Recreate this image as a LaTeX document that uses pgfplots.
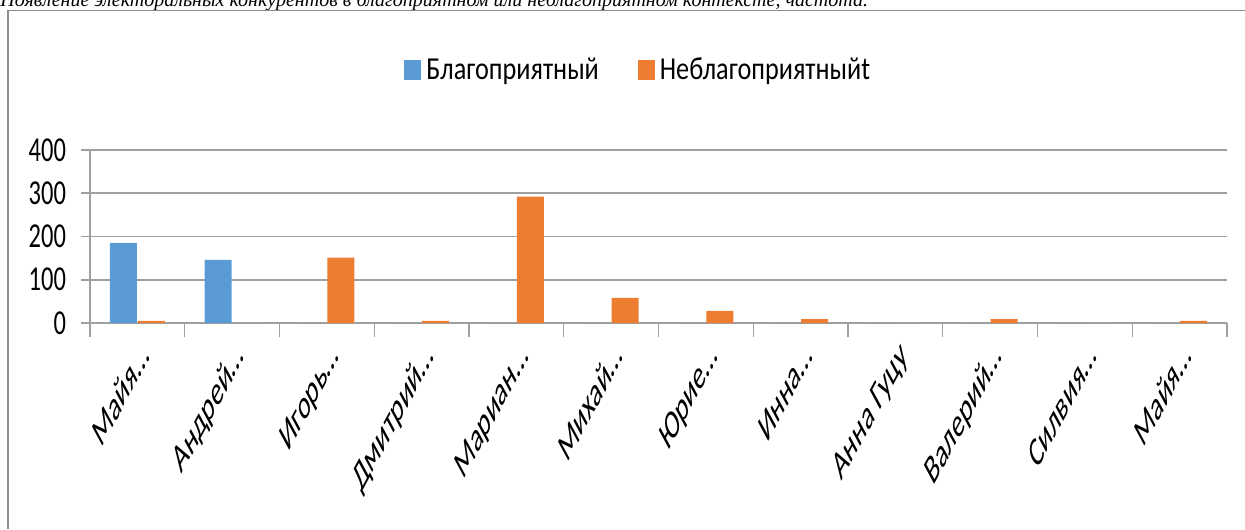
\documentclass[border=0pt]{standalone}
\usepackage{fontspec}
\usepackage{pgfplots}
\pgfplotsset{compat=1.18}
\newfontfamily\legfont[FakeStretch=0.82]{Carlito}
\newfontfamily\tickfont[FakeStretch=0.7]{Carlito}
\newfontfamily\chartfont{Carlito}
\newfontfamily\capfont{Liberation Serif}
\definecolor{cblue}{HTML}{5B9BD5}
\definecolor{corange}{HTML}{ED7D31}
\definecolor{cgrid}{HTML}{A0A0A0}
\definecolor{cframe}{HTML}{8C8C8C}

% 1 px of the reference = 0.5pt, y measured downward from the top edge
\begin{document}
\begin{tikzpicture}
% caption of the figure, cut at the top edge
\node[anchor=base west, inner sep=0pt, font=\capfont\itshape\fontsize{10}{12}\selectfont] at (0pt,-3.5pt)
  {Появление электоральных конкурентов в благоприятном или неблагоприятном контексте, частота.};
\draw[cframe, line width=0.6pt] (4pt,-264.5pt) -- (4pt,-5.25pt) -- (625pt,-5.25pt);
\begin{axis}[
  at={(45pt,-161.5pt)}, anchor=south west,
  scale only axis, width=568.5pt, height=86.5pt,
  xmin=0.5, xmax=12.5, ymin=0, ymax=400,
  ytick={0,100,...,400},
  xtick={1,...,12},
  xticklabels={Майя…,Андрей…,Игорь…,Дмитрий…,Мариан…,Михай…,Юрие…,Инна…,Анна Гуцу,Валерий…,Силвия…,Майя…},
  minor xtick={0.5,1.5,...,12.5},
  axis x line*=bottom, axis y line*=left,
  x axis line style={draw=none},
  y axis line style={-, cgrid, line width=0.8pt},
  ymajorgrids, grid style={cgrid, line width=0.8pt},
  tick align=outside,
  major tick length=4.5pt, minor tick length=7pt,
  major x tick style={draw=none},
  ytick style={cgrid, line width=0.8pt},
  minor x tick style={cgrid, line width=0.6pt},
  /pgf/number format/assume math mode=true,
  yticklabel style={font=\tickfont\fontsize{17.5}{20}\selectfont, xshift=-4pt},
  xticklabel style={font=\chartfont\fontsize{21}{24}\selectfont, inner sep=0pt,
    anchor=base east, xshift=6.5pt, yshift=-13pt, cm={0.382,0.707,-0.382,0.707,(0,0)}},
  ybar, bar width=13.5pt,
  legend columns=2,
  legend style={at={(0.483,1.462)}, anchor=center, draw=none, fill=none,
    font=\legfont\fontsize{16}{19}\selectfont,
    /tikz/every odd column/.append style={column sep=0.5pt},
    /tikz/every even column/.append style={column sep=17.5pt}},
  legend image code/.code={\fill[#1] (0pt,-5pt) rectangle (8.5pt,5pt);},
]
\addplot[fill=cblue, draw=none, bar shift=-7pt] coordinates
  {(1,185) (2,146) (3,0) (4,0) (5,0) (6,0) (7,0) (8,0) (9,0) (10,0) (11,0) (12,0)};
\addlegendentry{Благоприятный}
\addplot[fill=corange, draw=none, bar shift=7pt] coordinates
  {(1,5) (2,0) (3,151) (4,5) (5,292) (6,58) (7,28) (8,9) (9,0) (10,9) (11,0) (12,5)};
\addlegendentry{Неблагоприятныйt}
\end{axis}
\pgfresetboundingbox
\useasboundingbox (0pt,0pt) rectangle (622.5pt,-264.5pt);
\end{tikzpicture}
\end{document}
